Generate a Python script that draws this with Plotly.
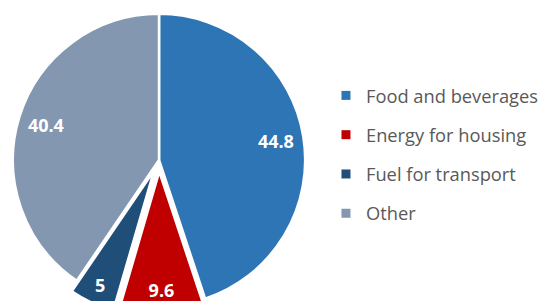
import plotly.graph_objects as go

categories = ["Food and beverages", "Energy for housing", "Fuel for transport", "Other"]
values = [44.8, 9.6, 5, 40.4]
colors = ["#2E75B6", "#C00000", "#1F4E79", "#8497B0"]
pulls = [0, 0.08, 0.08, 0]

W, H = 544, 330
cx, cy, r = 160.5, 160, 147.5
maxpull = max(pulls)
half = r * (1 + maxpull)
domain = dict(x=[(cx - half) / W, (cx + half) / W], y=[1 - (cy + half) / H, 1 - (cy - half) / H])

fig = go.Figure()
# filled slices
fig.add_trace(go.Pie(
    labels=categories, values=values, sort=False, direction="clockwise", rotation=0,
    pull=pulls, marker=dict(colors=colors, line=dict(color="white", width=2.5)),
    textinfo="none", showlegend=False, hoverinfo="label+value", domain=domain,
))
# value labels, placed in the outer ring of the pie
fig.add_trace(go.Pie(
    labels=categories, values=values, sort=False, direction="clockwise", rotation=0,
    pull=pulls, hole=0.62,
    marker=dict(colors=["rgba(0,0,0,0)"] * len(values), line=dict(width=0)),
    textinfo="value", textposition="inside", insidetextorientation="horizontal",
    textfont=dict(family="Open Sans", size=18, color="white", weight="bold"),
    showlegend=False, hoverinfo="skip", domain=domain,
))
for i, (cat, col) in enumerate(zip(categories, colors)):
    fig.add_trace(go.Scatter(
        x=[None], y=[None], mode="markers", name=cat, legendgroup=str(i),
        marker=dict(symbol="square", size=9, color=col), showlegend=True,
    ))

fig.update_layout(
    width=W, height=H, margin=dict(l=0, r=0, t=0, b=0),
    paper_bgcolor="white", plot_bgcolor="white",
    xaxis=dict(visible=False), yaxis=dict(visible=False),
    legend=dict(x=329 / W, y=1 - 77 / H, xanchor="left", yanchor="top",
                font=dict(family="Open Sans", size=18.3, color="#595959"),
                tracegroupgap=12.5, itemwidth=30),
)
fig.write_html("out.html", config={"displayModeBar": False},
               post_script="document.body.style.margin='0';document.body.style.overflow='hidden';")
